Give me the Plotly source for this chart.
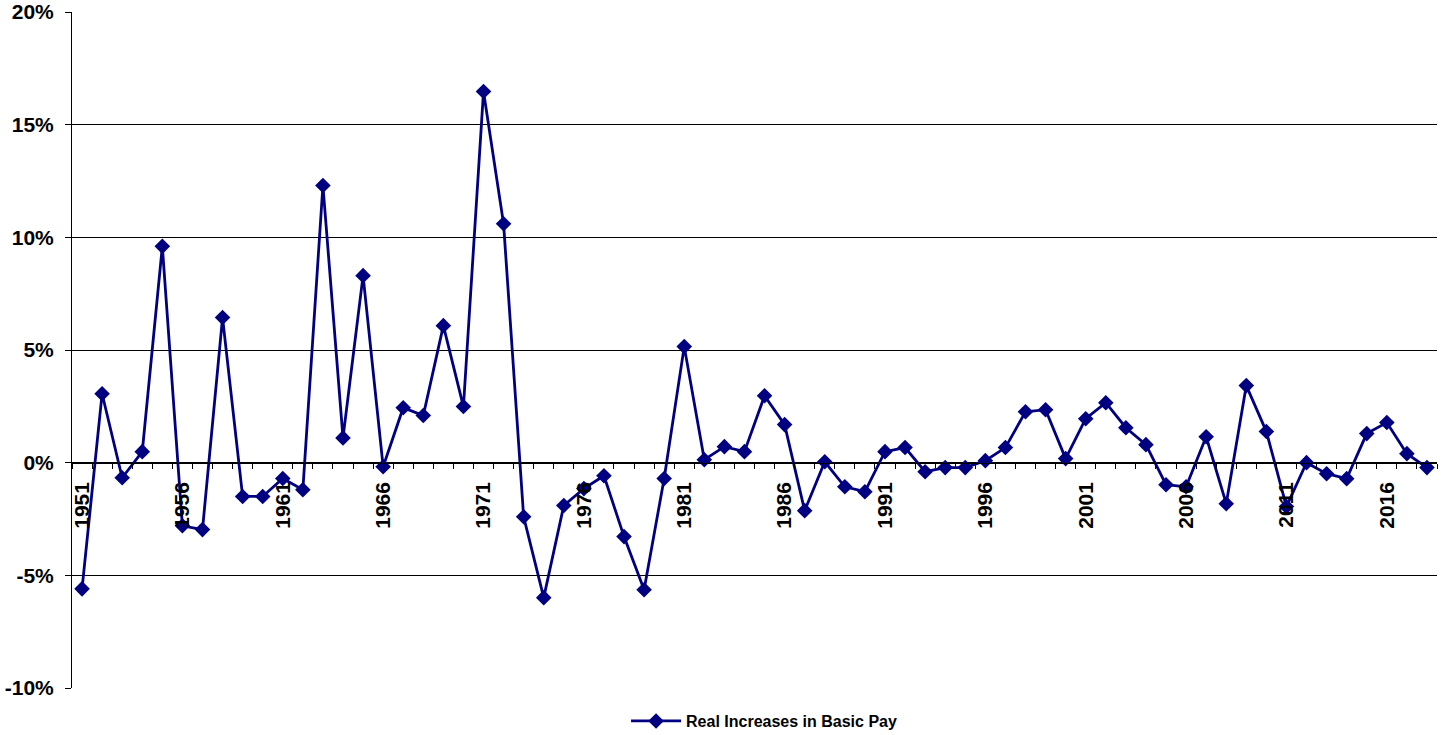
import plotly.graph_objects as go

# Annual real increase in basic pay, percent
years = list(range(1951, 2019))
real_increase = [
    -5.6, 3.06, -0.67, 0.49, 9.6, -2.8, -2.97, 6.44, -1.5, -1.5,
    -0.7, -1.2, 12.3, 1.1, 8.3, -0.18, 2.44, 2.09, 6.08, 2.49,
    16.47, 10.6, -2.4, -5.99, -1.9, -1.15, -0.58, -3.28, -5.64, -0.7,
    5.15, 0.13, 0.71, 0.49, 2.97, 1.69, -2.13, 0.04, -1.07, -1.29,
    0.49, 0.67, -0.4, -0.22, -0.22, 0.09, 0.67, 2.26, 2.35, 0.18,
    1.95, 2.66, 1.55, 0.8, -0.98, -1.07, 1.15, -1.82, 3.42, 1.38,
    -1.95, 0.0, -0.49, -0.71, 1.29, 1.78, 0.4, -0.22,
]
series_name = "Real Increases in Basic Pay"

# Axis ticks
x_tick_years = list(range(1951, 2019, 5))
x_tick_text = [str(y) for y in x_tick_years]
y_tick_vals = [-10, -5, 0, 5, 10, 15, 20]
y_tick_text = ["-10%", "-5%", "0%", "5%", "10%", "15%", "20%"]

FONT = "Liberation Sans"
NAVY = "#000080"

y_min, y_max = -10, 20


def bold(labels):
    return ["<b>%s</b>" % t for t in labels]


fig = go.Figure()
fig.add_trace(go.Scatter(
    x=years,
    y=real_increase,
    mode="lines+markers",
    name="<b>%s</b>" % series_name,
    line=dict(color=NAVY, width=2.8),
    marker=dict(symbol="diamond", size=12, color=NAVY),
))

fig.update_layout(
    width=1441,
    height=735,
    margin=dict(l=72, r=4, t=12, b=47),
    paper_bgcolor="white",
    plot_bgcolor="white",
    font=dict(family=FONT, color="black"),
    showlegend=True,
    legend=dict(
        orientation="h",
        x=0.507,
        xanchor="center",
        xref="paper",
        y=0.019,
        yref="container",
        yanchor="middle",
        font=dict(family=FONT, size=16, color="black"),
        bgcolor="rgba(0,0,0,0)",
        itemwidth=50,
    ),
    xaxis=dict(
        range=[years[0] - 0.5, years[-1] + 0.5],
        anchor="free",
        position=(0 - y_min) / (y_max - y_min),
        showline=True,
        linecolor="black",
        linewidth=1,
        showgrid=False,
        zeroline=False,
        tickmode="array",
        tickvals=x_tick_years,
        ticktext=bold(x_tick_text),
        tickangle=-90,
        ticks="",
        ticklabelstandoff=10,
        tickfont=dict(family=FONT, size=21, color="black"),
        minor=dict(
            tick0=years[0] - 0.5,
            dtick=1,
            ticks="outside",
            ticklen=5,
            tickwidth=1,
            tickcolor="black",
            showgrid=False,
        ),
        automargin=False,
    ),
    yaxis=dict(
        range=[y_min, y_max],
        showline=True,
        linecolor="black",
        linewidth=1,
        showgrid=True,
        gridcolor="black",
        gridwidth=1,
        zeroline=False,
        tickmode="array",
        tickvals=y_tick_vals,
        ticktext=bold(y_tick_text),
        ticks="outside",
        ticklen=6,
        tickcolor="black",
        ticklabelstandoff=7,
        tickfont=dict(family=FONT, size=21, color="black"),
        automargin=False,
    ),
)

fig.write_html("out.html")
